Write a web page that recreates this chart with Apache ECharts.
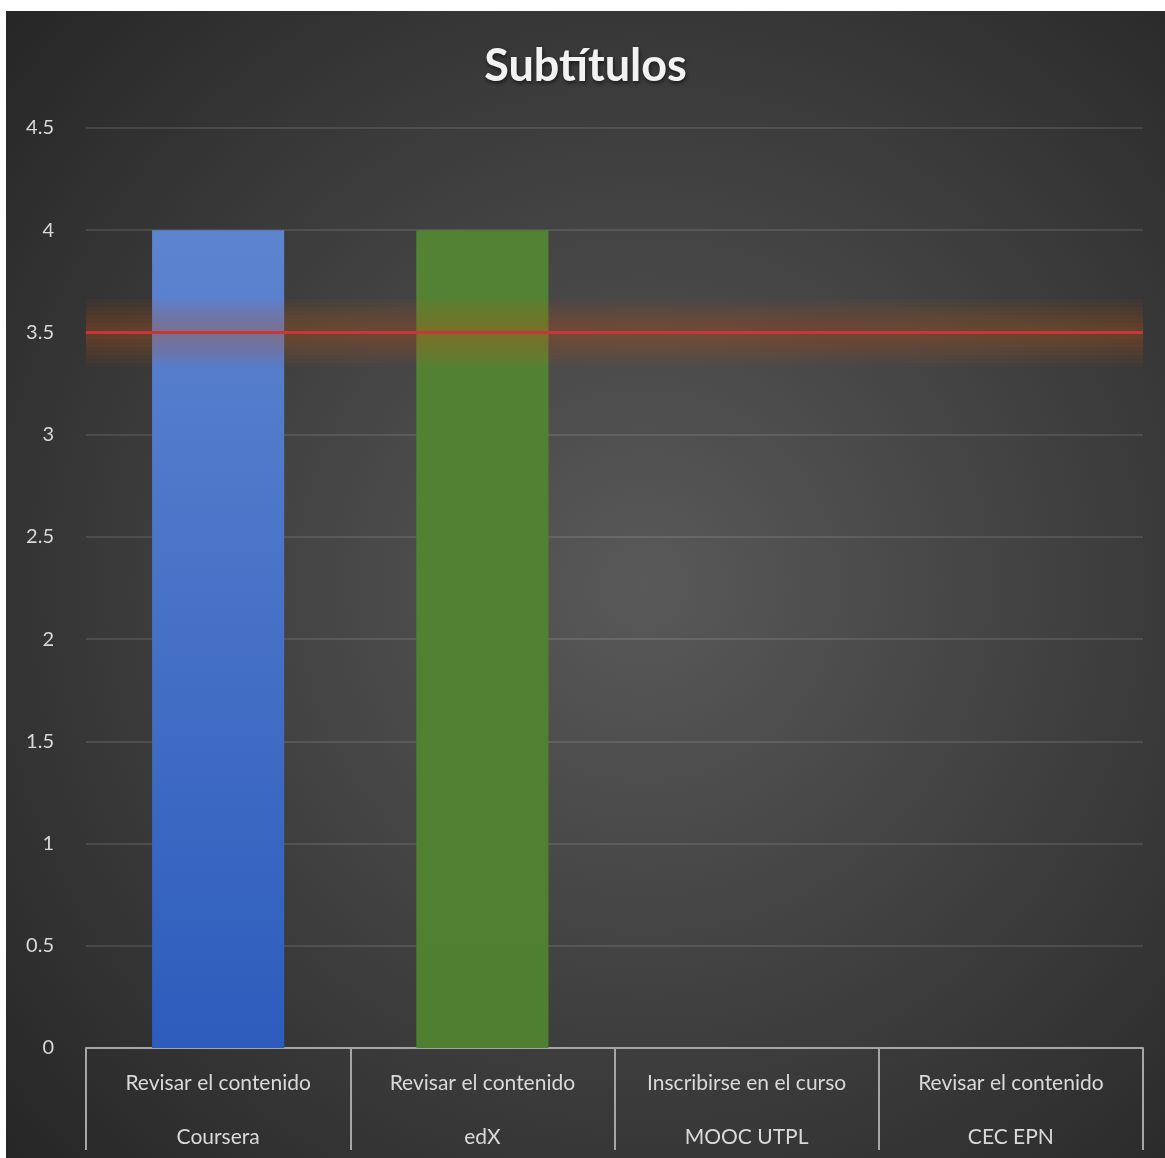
<!DOCTYPE html>
<html>
<head>
<meta charset="utf-8">
<script src="https://cdn.jsdelivr.net/npm/echarts@6/dist/echarts.min.js"></script>
<style>
html,body{margin:0;padding:0;background:#fff;width:1165px;height:1158px;overflow:hidden;}
#chart{position:absolute;left:6px;top:11px;width:1159px;height:1147px;}
</style>
</head>
<body>
<div id="chart"></div>
<script>
const titleText = 'Subtítulos';
const actions = ['Revisar el contenido', 'Revisar el contenido', 'Inscribirse en el curso', 'Revisar el contenido'];
const platforms = ['Coursera', 'edX', 'MOOC UTPL', 'CEC EPN'];
const values = [4, 4, 0, 0];
const threshold = 3.5;
const yTicks = [0, 0.5, 1, 1.5, 2, 2.5, 3, 3.5, 4, 4.5];

const barColors = [
  {type:'linear',x:0,y:0,x2:0,y2:1,colorStops:[{offset:0,color:'#5d84cf'},{offset:1,color:'#2d5cbd'}]},
  {type:'linear',x:0,y:0,x2:0,y2:1,colorStops:[{offset:0,color:'#548235'},{offset:1,color:'#4f7f31'}]},
  '#a5a5a5',
  '#ffc000'
];

const chart = echarts.init(document.getElementById('chart'));
const textColor = '#d9d9d9';
const fontFamily = 'Lato, "Open Sans", sans-serif';

// soft glow around the threshold line, built from stacked translucent strokes
const glowWidths = [68, 60, 52, 44, 36, 28, 20, 12];
const glowLines = glowWidths.map(w => ({
  yAxis: threshold,
  lineStyle: { type: 'solid', width: w, color: 'rgba(205,85,25,0.045)' }
}));

chart.setOption({
  backgroundColor: {
    type: 'radial', x: 0.55, y: 0.5, r: 0.75,
    colorStops: [{offset:0, color:'#595959'}, {offset:1, color:'#262626'}]
  },
  title: {
    text: titleText,
    left: 'center',
    top: 28,
    textStyle: {
      color: '#f2f2f2', fontSize: 45, fontWeight: 'bold', fontFamily: fontFamily,
      textShadowColor: 'rgba(0,0,0,0.6)', textShadowBlur: 4, textShadowOffsetX: 1, textShadowOffsetY: 2
    }
  },
  grid: { left: 80, right: 22, top: 117, bottom: 110, containLabel: false },
  xAxis: {
    type: 'category',
    data: actions.map((a, i) => a + '\n' + platforms[i]),
    boundaryGap: true,
    axisLine: { show: true, lineStyle: { color: '#a6a6a6', width: 2 } },
    axisTick: { show: true, interval: 0, length: 102, lineStyle: { color: '#a6a6a6', width: 2 } },
    axisLabel: {
      interval: 0, margin: 8,
      formatter: function (v) {
        const p = v.split('\n');
        return '{a|' + p[0] + '}\n{b|' + p[1] + '}';
      },
      rich: {
        a: { color: textColor, fontSize: 21, fontFamily: fontFamily, lineHeight: 54, align: 'center' },
        b: { color: textColor, fontSize: 21, fontFamily: fontFamily, lineHeight: 54, align: 'center' }
      }
    },
    splitLine: { show: false }
  },
  yAxis: {
    type: 'value',
    min: 0, max: 4.5, interval: 0.5,
    axisLine: { show: false },
    axisTick: { show: false },
    axisLabel: {
      color: textColor, fontSize: 20, fontFamily: fontFamily, margin: 32,
      formatter: function (v) { return yTicks.indexOf(v) >= 0 ? String(v) : ''; }
    },
    splitLine: { lineStyle: { color: 'rgba(255,255,255,0.14)', width: 1.5 } }
  },
  series: [{
    type: 'bar',
    barWidth: '50%',
    data: values.map((v, i) => ({ value: v, itemStyle: { color: barColors[i] } })),
    markLine: {
      silent: true,
      symbol: 'none',
      label: { show: false },
      data: glowLines.concat([
        { yAxis: threshold, lineStyle: { type: 'solid', width: 3, color: '#c8353a' } }
      ])
    }
  }]
});
</script>
</body>
</html>
